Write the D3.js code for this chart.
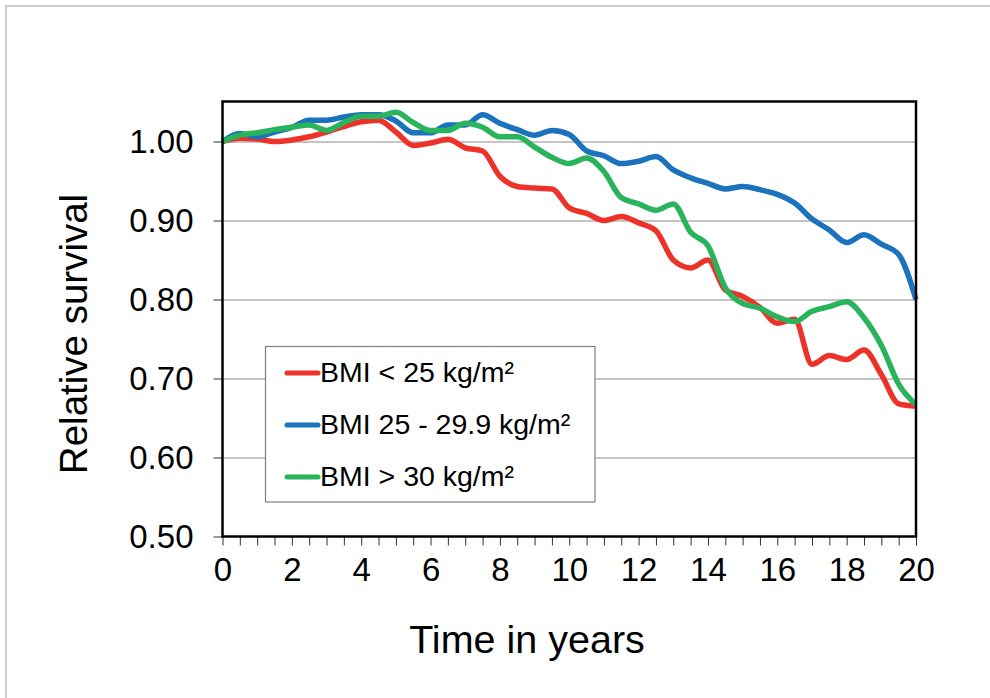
<!DOCTYPE html>
<html>
<head>
<meta charset="utf-8">
<script src="https://d3js.org/d3.v7.min.js"></script>
<style>
  body { margin: 0; background: #fff; }
  svg text { font-family: "Liberation Sans", Arial, sans-serif; fill: #000; }
</style>
</head>
<body>
<svg width="990" height="698" id="chart"></svg>
<script>

// time points, every half year
var years = d3.range(0, 20.5, 0.5);

// relative survival
var bmiLow = [1.000, 1.004, 1.003, 1.000, 1.002, 1.006, 1.012, 1.019, 1.025, 1.027,
  1.012, 0.995, 0.998, 1.003, 0.992, 0.988, 0.956, 0.943, 0.941, 0.940,
  0.916, 0.909, 0.900, 0.905, 0.897, 0.887, 0.850, 0.840, 0.850, 0.812,
  0.804, 0.790, 0.770, 0.775, 0.718, 0.729, 0.724, 0.736, 0.705, 0.668, 0.665];

var bmiMid = [1.000, 1.010, 1.006, 1.012, 1.018, 1.027, 1.027, 1.031, 1.034, 1.034,
  1.026, 1.011, 1.011, 1.021, 1.021, 1.034, 1.023, 1.015, 1.008, 1.014,
  1.009, 0.988, 0.982, 0.972, 0.975, 0.981, 0.964, 0.954, 0.947, 0.940,
  0.943, 0.939, 0.933, 0.922, 0.902, 0.888, 0.872, 0.882, 0.870, 0.857, 0.800];

var bmiHigh = [1.000, 1.008, 1.011, 1.015, 1.018, 1.021, 1.014, 1.024, 1.032, 1.032,
  1.037, 1.024, 1.014, 1.014, 1.023, 1.018, 1.006, 1.006, 0.993, 0.980,
  0.972, 0.979, 0.962, 0.929, 0.921, 0.913, 0.921, 0.885, 0.868, 0.815,
  0.795, 0.789, 0.778, 0.772, 0.785, 0.791, 0.797, 0.777, 0.742, 0.693, 0.667];

var seriesNames = ['BMI < 25 kg/m\u00b2', 'BMI 25 - 29.9 kg/m\u00b2', 'BMI > 30 kg/m\u00b2'];
var seriesColors = ['#ec3229', '#1b72bd', '#29b35b'];
var yTicks = [0.50, 0.60, 0.70, 0.80, 0.90, 1.00];

var svg = d3.select('#chart');

// light frame of the slide
svg.append('path')
  .attr('d', 'M6,698 L6,6 L990,6')
  .attr('fill', 'none')
  .attr('stroke', '#cccccc')
  .attr('stroke-width', 2);

// plot area (don't call these top/left: window.top is read only)
var plotL = 222.5, plotT = 101.5, plotR = 916, plotB = 536.5;

var x = d3.scaleLinear().domain([0, 20]).range([plotL, plotR]);
var y = d3.scaleLinear().domain([0.5, 1.0]).range([plotB, 141.5]);

// gridlines
svg.append('g')
  .attr('transform', 'translate(' + plotL + ',0)')
  .call(d3.axisLeft(y).tickValues(yTicks.slice(1)).tickSize(-(plotR - plotL)).tickFormat(''))
  .call(function(g) { g.select('.domain').remove(); })
  .selectAll('line')
  .attr('stroke', '#8c8c8c')
  .attr('stroke-width', 1.2);

// y axis ticks + labels
var yAxis = svg.append('g')
  .attr('transform', 'translate(' + plotL + ',0)')
  .call(d3.axisLeft(y).tickValues(yTicks).tickSize(9).tickPadding(20).tickFormat(d3.format('.2f')));
yAxis.select('.domain').remove();
yAxis.selectAll('line').attr('stroke', '#333');
yAxis.selectAll('text')
  .style('font-size', '33px')
  .attr('dy', '0.34em');

// x axis ticks + labels
var xAxis = svg.append('g')
  .attr('transform', 'translate(0,' + plotB + ')')
  .call(d3.axisBottom(x).tickValues(years).tickSize(9).tickPadding(12)
    .tickFormat(function(d) { return d % 2 === 0 ? d : ''; }));
xAxis.select('.domain').remove();
xAxis.selectAll('line').attr('stroke', '#333');
xAxis.selectAll('text')
  .style('font-size', '33px')
  .attr('dy', '0.71em');

// the series
var allSeries = [bmiLow, bmiMid, bmiHigh];
var line = d3.line()
  .x(function(d, i) { return x(years[i]); })
  .y(function(d) { return y(d); })
  .curve(d3.curveMonotoneX);

svg.append('g')
  .selectAll('path')
  .data(allSeries)
  .enter().append('path')
  .attr('d', line)
  .attr('fill', 'none')
  .attr('stroke', function(d, i) { return seriesColors[i]; })
  .attr('stroke-width', 5.5)
  .attr('stroke-linejoin', 'round');

// plot border
svg.append('rect')
  .attr('x', plotL)
  .attr('y', plotT)
  .attr('width', plotR - plotL)
  .attr('height', plotB - plotT)
  .attr('fill', 'none')
  .attr('stroke', '#000')
  .attr('stroke-width', 2.5);

// legend
var legend = svg.append('g');
legend.append('rect')
  .attr('x', 265.5)
  .attr('y', 346.5)
  .attr('width', 329.5)
  .attr('height', 155.5)
  .attr('fill', '#fff')
  .attr('stroke', '#7f7f7f')
  .attr('stroke-width', 1.2);

var rows = legend.selectAll('g.row')
  .data(seriesNames)
  .enter().append('g')
  .attr('class', 'row')
  .attr('transform', function(d, i) { return 'translate(0,' + (373 + i * 52) + ')'; });

rows.append('line')
  .attr('x1', 287)
  .attr('x2', 318)
  .attr('stroke', function(d, i) { return seriesColors[i]; })
  .attr('stroke-width', 5)
  .attr('stroke-linecap', 'round');

rows.append('text')
  .attr('x', 320)
  .attr('y', 9)
  .style('font-size', '28.5px')
  .text(function(d) { return d; });

// axis titles
svg.append('text')
  .attr('x', 527)
  .attr('y', 653)
  .attr('text-anchor', 'middle')
  .style('font-size', '39.5px')
  .text('Time in years');

svg.append('text')
  .attr('transform', 'translate(87,334) rotate(-90)')
  .attr('text-anchor', 'middle')
  .style('font-size', '38.5px')
  .text('Relative survival');

</script>
</body>
</html>
